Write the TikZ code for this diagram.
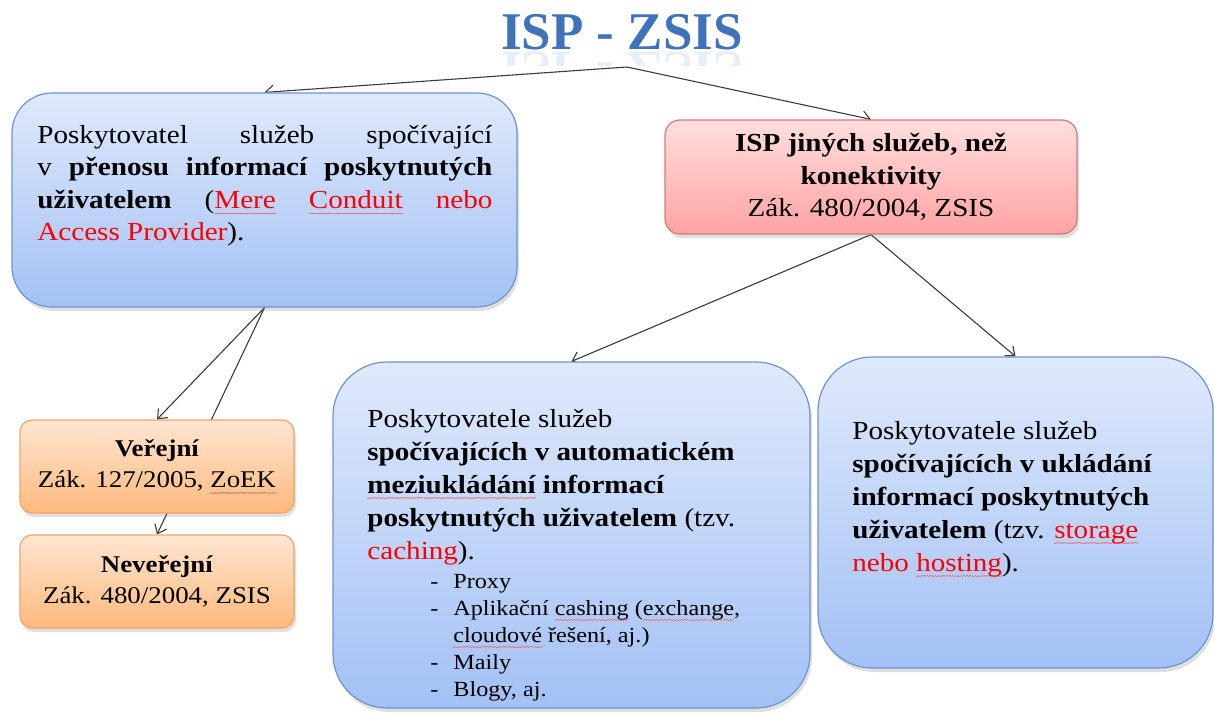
\documentclass[tikz,border=0pt]{standalone}
\usepackage{fontspec}
\setmainfont{Liberation Serif}[FakeStretch=1.12]
\newfontfamily\headfont{Liberation Serif}
\usetikzlibrary{arrows.meta,shadows}

\definecolor{boxtop}{HTML}{DFE9FB}
\definecolor{boxbot}{HTML}{A3C1F5}
\definecolor{boxline}{HTML}{6F94CC}
\definecolor{pinktop}{HTML}{FFDEDE}
\definecolor{pinkbot}{HTML}{FFA3A3}
\definecolor{pinkline}{HTML}{D27B7B}
\definecolor{orgtop}{HTML}{FFE6D2}
\definecolor{orgbot}{HTML}{FFB97D}
\definecolor{orgline}{HTML}{F4A36A}
\definecolor{linkred}{HTML}{FF0000}
\definecolor{spellred}{HTML}{F07070}
\definecolor{titleblue}{HTML}{3F72B8}
\definecolor{wire}{HTML}{3A3A3A}

% thin red wavy underline for flagged words, built from tiny rules
\newsavebox\spellbox
\newcommand\spell[1]{\sbox\spellbox{#1}%
  \rlap{\textcolor{spellred}{\hbox to\wd\spellbox{%
    \xleaders\hbox{\rule[-2.9pt]{0.7pt}{0.35pt}\rule[-2.5pt]{0.7pt}{0.35pt}}\hfill}}}%
  \usebox\spellbox}

\pgfdeclarelayer{wires}
\pgfsetlayers{wires,main}

\tikzset{
  card/.style={draw=boxline, line width=0.6pt, top color=boxtop, bottom color=boxbot,
    drop shadow={opacity=0.25, shadow xshift=1pt, shadow yshift=-2pt}, inner sep=0pt},
  pinkcard/.style={draw=pinkline, line width=0.6pt, top color=pinktop, bottom color=pinkbot,
    drop shadow={opacity=0.25, shadow xshift=1pt, shadow yshift=-2pt}, inner sep=0pt,
    align=center, font=\fontsize{13}{16.3}\selectfont},
  orgcard/.style={draw=orgline, line width=0.6pt, top color=orgtop, bottom color=orgbot,
    drop shadow={opacity=0.25, shadow xshift=1pt, shadow yshift=-2pt}, inner sep=0pt,
    align=center, font=\fontsize{12}{15.5}\selectfont},
  wirearrow/.style={draw=wire, line width=0.55pt, -{Straight Barb[length=4pt,width=6.5pt]}},
  plain/.style={inner sep=0pt, anchor=base west}
}

\begin{document}
\begin{tikzpicture}[x=0.5pt, y=-0.5pt]
\useasboundingbox (0,0) rectangle (1214,717);

% heading with faint mirror image
\node[anchor=base, inner sep=0pt, text=titleblue,
      font=\headfont\bfseries\fontsize{26.5}{30}\selectfont] (title) at (622,50) {ISP - ZSIS};
\begin{scope}
  \clip (480,52) rectangle (770,66);
  \node[anchor=base, inner sep=0pt, text=titleblue, text opacity=0.12, yscale=-1,
        font=\headfont\bfseries\fontsize{26.5}{30}\selectfont] (titlemirror) at (622,53) {ISP - ZSIS};
\end{scope}
\coordinate (apex) at (627,67);

% boxes
\node[card, rounded corners=20pt, minimum width=252.5pt, minimum height=107pt] (conduit) at (264.5,200) {};
\node[plain] (conduittext) at (37,143) {\parbox[t]{227.5pt}{\fontsize{13}{16.3}\selectfont
  \hyphenpenalty=10000\exhyphenpenalty=10000\relax
  Poskytovatel služeb spočívající\linebreak
  v~\textbf{přenosu informací poskytnutých}\linebreak
  \textbf{uživatelem} ({\color{linkred}\spell{Mere} \spell{Conduit} nebo}\linebreak
  {\color{linkred}Access Provider}).}};

\node[pinkcard, rounded corners=7.5pt, minimum width=206pt, minimum height=57pt] (other) at (871,177)
  {\textbf{ISP jiných služeb, než}\\ \textbf{konektivity}\\ Zák. 480/2004, ZSIS};

\node[orgcard, rounded corners=6pt, minimum width=137pt, minimum height=46.5pt] (public) at (157,466.5)
  {\textbf{Veřejní}\\ Zák. 127/2005, \spell{ZoEK}};
\node[orgcard, rounded corners=6pt, minimum width=137pt, minimum height=46.5pt] (nonpublic) at (157,581.5)
  {\textbf{Neveřejní}\\ Zák. 480/2004, ZSIS};

\node[card, rounded corners=27pt, minimum width=238.5pt, minimum height=173pt] (caching) at (571.5,535) {};
\node[plain] (cachingtext) at (367,427) {\parbox[t]{210pt}{\raggedright\fontsize{13}{16.5}\selectfont
  Poskytovatele služeb\\
  \textbf{spočívajících v automatickém}\\
  \textbf{\spell{meziukládání} informací}\\
  \textbf{poskytnutých uživatelem} (tzv.\\
  {\color{linkred}caching}).}};
\node[plain] (cachinglist) at (430,588) {\parbox[t]{180pt}{\raggedright\fontsize{10.8}{13.5}\selectfont
  \makebox[11.5pt][l]{-}Proxy\\
  \makebox[11.5pt][l]{-}Aplikační \spell{cashing} (\spell{exchange},\\
  \hspace*{11.5pt}\spell{cloudové} řešení, aj.)\\
  \makebox[11.5pt][l]{-}Maily\\
  \makebox[11.5pt][l]{-}Blogy, aj.}};

\node[card, rounded corners=27pt, minimum width=197.5pt, minimum height=155.5pt] (hosting) at (1015.5,512.5) {};
\node[plain] (hostingtext) at (852,439) {\parbox[t]{175pt}{\raggedright\fontsize{13}{16.5}\selectfont
  Poskytovatele služeb\\
  \textbf{spočívajících v ukládání}\\
  \textbf{informací poskytnutých}\\
  \textbf{uživatelem} (tzv. {\color{linkred}\spell{storage}}\\
  {\color{linkred}nebo \spell{hosting}}).}};

% connectors, kept under the boxes
\begin{pgfonlayer}{wires}
  \draw[wirearrow] (apex) -- (conduit.north);
  \draw[wirearrow] (apex) -- (other.north);
  \draw[wirearrow] (conduit.south) -- (public.north);
  \draw[wirearrow] (conduit.south) -- (nonpublic.north);
  \draw[wirearrow] (other.south) -- (caching.north);
  \draw[wirearrow] (other.south) -- (hosting.north);
\end{pgfonlayer}
\end{tikzpicture}
\end{document}
